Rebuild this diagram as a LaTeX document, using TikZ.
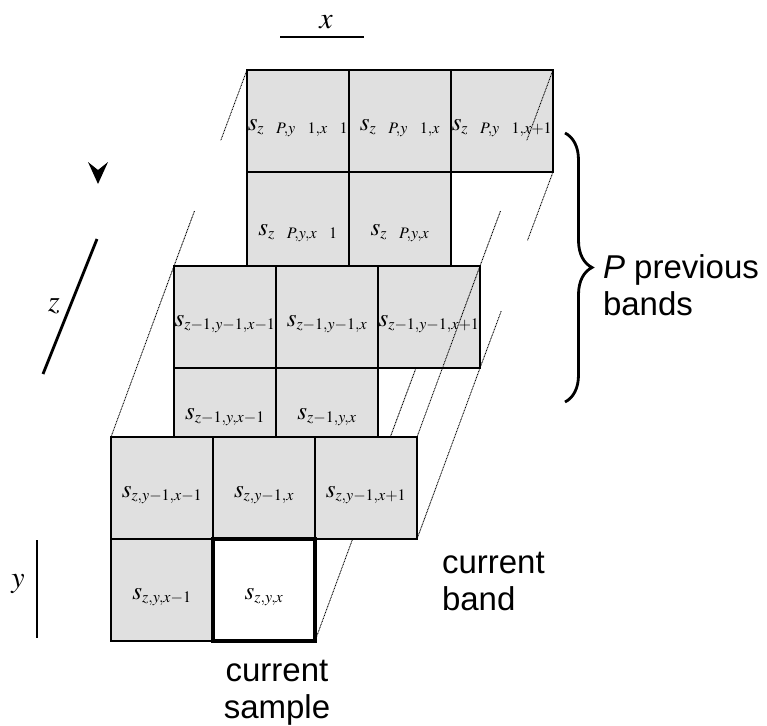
\documentclass[tikz,border=0pt]{standalone}
\usepackage{amsmath}
\usepackage{mathptmx}
\usepackage{fontspec}
\newfontfamily\sansfont{Liberation Sans}
\usetikzlibrary{positioning,calc,decorations.pathreplacing}
\definecolor{cellgray}{RGB}{224,224,224}
\DeclareMathSizes{25}{25}{16}{12}
\DeclareMathSizes{30}{30}{21}{15}

\begin{document}
\begin{tikzpicture}[x=1pt,y=1pt,node distance=102pt]
 \tikzstyle{every node}=[inner sep=0pt, outer sep=0pt]
 \tikzstyle{cell}=[draw, fill=cellgray, line width=1.1pt, minimum width=102pt, minimum height=102pt, text height=18pt, text depth=0pt, font=\fontsize{25}{29}\selectfont]
 \tikzstyle{current}=[cell, fill=white, line width=4pt]
 \tikzstyle{link}=[line width=0.9pt, dash pattern=on 0.9pt off 0.7pt]
 \tikzstyle{axis}=[line width=2.8pt]
 \tikzstyle{axislabel}=[font=\fontsize{30}{34}\selectfont]
 \tikzstyle{word}=[font=\sansfont\fontsize{33}{37}\selectfont]
 \useasboundingbox (0,0) rectangle (767,-725);

 % band z-P
 \node[cell] (a11) at (298,-121) {$s_{z\phantom{-}P,y\phantom{-}1,x\phantom{-}1}$};
 \node[cell] (a12) [right of=a11] {$s_{z\phantom{-}P,y\phantom{-}1,x}$};
 \node[cell] (a13) [right of=a12] {$s_{z\phantom{-}P,y\phantom{-}1,x+1}$};
 \node[cell, text height=24pt] (a21) [below of=a11] {$s_{z\phantom{-}P,y,x\phantom{-}1}$};
 \node[cell, text height=24pt] (a22) [right of=a21] {$s_{z\phantom{-}P,y,x}$};

 % band z-1
 \node[cell] (b11) at (225,-317) {$s_{z-1,y-1,x-1}$};
 \node[cell] (b12) [right of=b11] {$s_{z-1,y-1,x}$};
 \node[cell] (b13) [right of=b12] {$s_{z-1,y-1,x+1}$};
 \node[cell, text height=10pt, text depth=10pt] (b21) [below of=b11] {$s_{z-1,y,x-1}$};
 \node[cell, text height=10pt, text depth=10pt] (b22) [right of=b21] {$s_{z-1,y,x}$};

 % current band
 \node[cell] (c11) at (162,-488) {$s_{z,y-1,x-1}$};
 \node[cell] (c12) [right of=c11] {$s_{z,y-1,x}$};
 \node[cell] (c13) [right of=c12] {$s_{z,y-1,x+1}$};
 \node[cell] (c21) [below of=c11] {$s_{z,y,x-1}$};
 \node[current] (c22) [right of=c21] {$s_{z,y,x}$};

 % lines between the bands
 \draw[link] (a11.north west) -- ($(a11.north west)!0.36!(b11.north west)$);
 \draw[link] ($(a11.north west)!0.72!(b11.north west)$) -- (b11.north west) -- (c11.north west);
 \draw[link] (a13.north east) -- ($(a13.north east)!0.36!(b13.north east)$);
 \draw[link] ($(a13.north east)!0.72!(b13.north east)$) -- (b13.north east) -- (c13.north east);
 \draw[link] (a13.south east) -- ($(a13.south east)!0.35!(b13.south east)$);
 \draw[link] ($(a13.south east)!0.71!(b13.south east)$) -- (b13.south east) -- (c13.south east);
 \draw[link] ($(a22.south east)!0.48!(b22.south east)$) -- ($(a22.south east)!0.83!(b22.south east)$);
 \draw[link] ($(b22.south east)!0.40!(c22.south east)$) -- (c22.south east);

 % axes
 \coordinate (xa) at (280,-37);
 \coordinate (xb) at (364,-37);
 \coordinate (za) at (97,-239);
 \coordinate (zb) at (43,-374);
 \coordinate (ya) at (37,-540);
 \coordinate (yb) at (37,-638);
 \draw[axis] (xa) -- (xb);
 \draw[axis] (za) -- (zb);
 \draw[axis] (ya) -- (yb);
 \node[axislabel] (xl) at (326,-22) {$x$};
 \node[axislabel] (zl) at (54,-306) {$z$};
 \node[axislabel] (yl) at (18,-584) {$y$};
 \fill (88,-162) -- (98,-184) -- (108,-162) -- (98,-170) -- cycle;

 % brace and words
 \coordinate (bracetop) at (565,-133);
 \coordinate (bracebot) at (565,-402);
 \draw[line width=2.8pt, decorate, decoration={brace, amplitude=27pt}] (bracetop) -- (bracebot);
 \node[word, anchor=west, align=left] (prev) at (603,-285) {\textit{P} previous\\bands};
 \node[word, anchor=west, align=left] (band) at (442,-581) {current\\band};
 \node[word, align=center] (sample) at (277,-693) {current\\sample};
\end{tikzpicture}
\end{document}
